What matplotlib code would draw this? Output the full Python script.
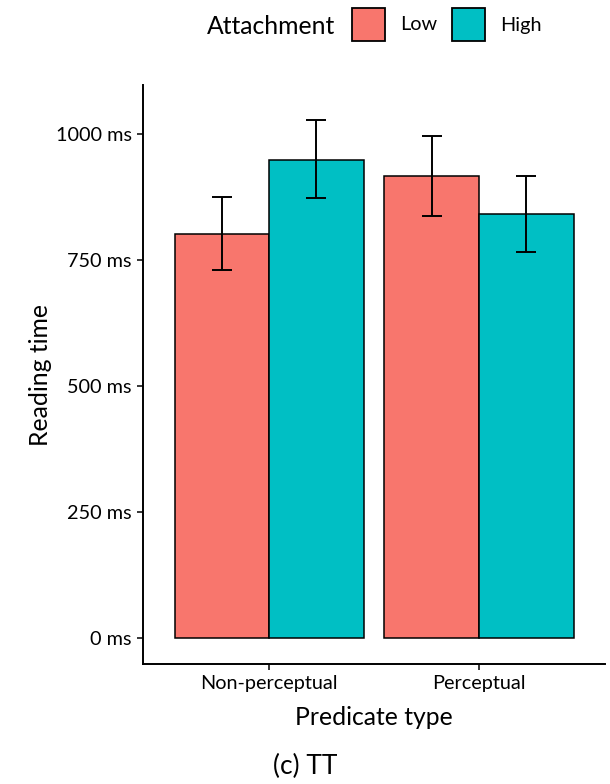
import matplotlib
matplotlib.use("Agg")
import matplotlib.pyplot as plt
from matplotlib.patches import Rectangle
import numpy as np

categories = ["Non-perceptual", "Perceptual"]
groups = ["Low", "High"]
means = {"Low": [803, 917], "High": [949, 842]}
err_lo = {"Low": [731, 837], "High": [873, 767]}
err_hi = {"Low": [876, 997], "High": [1029, 917]}
yticks = [0, 250, 500, 750, 1000]
colors = {"Low": "#F8766D", "High": "#00BFC4"}

plt.rcParams['font.family'] = ['Lato', 'DejaVu Sans']

fig = plt.figure(figsize=(6.1, 7.84), dpi=100)
ax = fig.add_axes([143/610, (784-664)/784, (605-143)/610, (664-85)/784])

x = np.arange(1, len(categories) + 1)
w = 0.45
for i, g in enumerate(groups):
    xs = x + (i - 0.5) * w
    ax.bar(xs, means[g], width=w, color=colors[g], edgecolor='black', linewidth=1.1, zorder=2)
    m = np.array(means[g]); lo = np.array(err_lo[g]); hi = np.array(err_hi[g])
    ax.errorbar(xs, m, yerr=[m - lo, hi - m], fmt='none', ecolor='black',
                elinewidth=1.4, capsize=7.2, capthick=1.4, zorder=3)

ax.set_xlim(0.4, 2.6)
ax.set_ylim(-52, 1098)
ax.set_xticks(x)
ax.set_xticklabels(categories, fontsize=14.3)
ax.set_yticks(yticks)
ax.set_yticklabels([f"{v} ms" for v in yticks], fontsize=14.3)
ax.tick_params(direction='out', length=4, width=1.1, colors='black', pad=4)
for s in ['top', 'right']:
    ax.spines[s].set_visible(False)
for s in ['left', 'bottom']:
    ax.spines[s].set_linewidth(1.4)
ax.set_xlabel("Predicate type", fontsize=17.8, labelpad=10)
ax.set_ylabel("Reading time", fontsize=17.8, labelpad=3)

# legend at top
fig.text(207/610, 1 - 26/784, "Attachment", fontsize=17.8, ha='left', va='center')
for g, bx, tx in [("Low", 352, 400), ("High", 452, 500)]:
    fig.patches.append(Rectangle((bx/610, 1 - 41/784), 33/610, 33/784,
                                 transform=fig.transFigure, facecolor=colors[g],
                                 edgecolor='black', linewidth=1.3))
    fig.text(tx/610, 1 - 25/784, g, fontsize=14.3, ha='left', va='center')

fig.text(0.5, 1 - 766/784, "(c) TT", fontsize=19, ha='center', va='center')

fig.savefig("out.png", dpi=100)
